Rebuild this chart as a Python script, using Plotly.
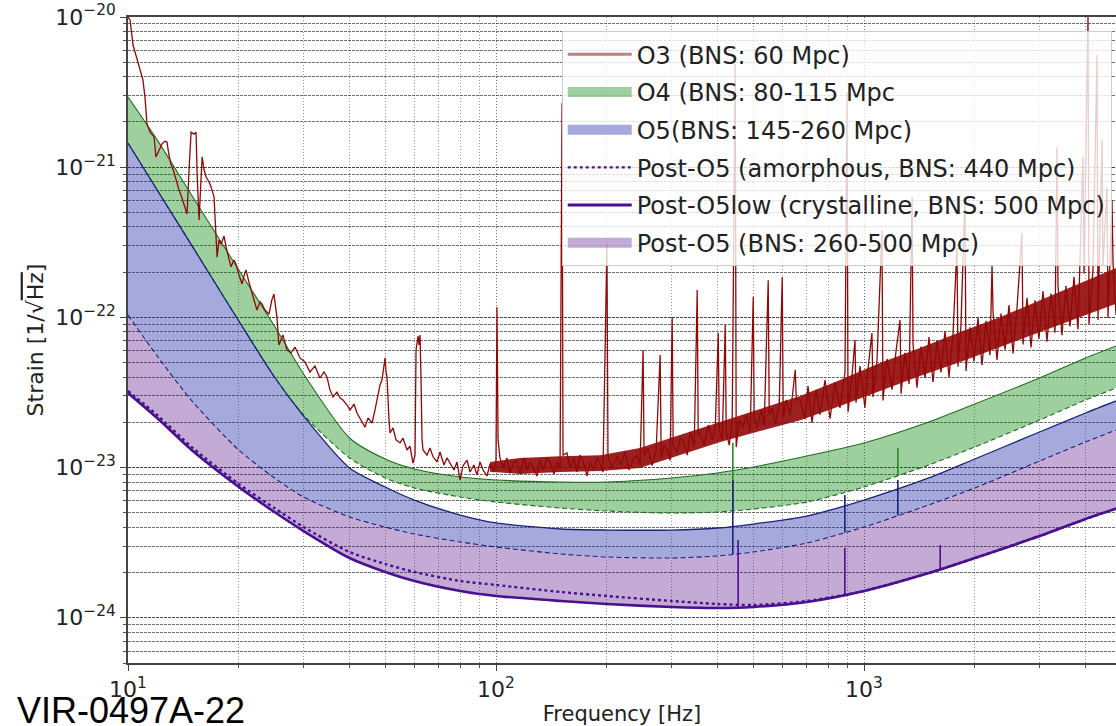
import plotly.graph_objects as go

# Strain values below are stored in units of 1e-23 / sqrt(Hz)
UNIT = 1e-23

# ---- design sensitivity curves, sampled on a common frequency grid (Hz)
freq_hz = [10, 12, 15, 20, 25, 30, 40, 50, 60, 80, 100, 150, 200, 300,
           400, 500, 700, 1000, 1500, 2000, 3000, 4000, 5000]

o4_80mpc = [293, 152, 63.3, 20.7, 8.77, 4.20, 1.574, 1.141, 0.979, 0.866,
            0.827, 0.802, 0.802, 0.853, 0.921, 1.009, 1.194, 1.458, 2.011,
            2.650, 3.949, 5.365, 6.65]
o4_115mpc = [144.9, 70.5, 29.4, 9.46, 4.01, 2.239, 1.159, 0.853, 0.731,
             0.637, 0.590, 0.538, 0.514, 0.498, 0.506, 0.530, 0.590, 0.743,
             1.041, 1.371, 2.074, 2.818, 3.493]
o5_145mpc = [144.9, 70.5, 29.4, 9.46, 4.01, 2.205, 0.994, 0.743, 0.608,
             0.483, 0.428, 0.390, 0.384, 0.384, 0.396, 0.421, 0.476, 0.608,
             0.853, 1.141, 1.726, 2.309, 2.862]
o5_260mpc = [10.37, 5.53, 2.733, 1.309, 0.853, 0.637, 0.469, 0.402, 0.361,
             0.320, 0.296, 0.266, 0.254, 0.250, 0.258, 0.274, 0.315, 0.402,
             0.564, 0.731, 1.107, 1.481, 1.835]
post_o5_amorphous = [3.236, 2.239, 1.350, 0.778, 0.538, 0.402, 0.274, 0.2282,
                     0.2018, 0.1758, 0.1654, 0.1485, 0.1397, 0.1294, 0.1236,
                     0.1217, 0.1294, 0.1508, 0.1987, 0.250, 0.350, 0.455, 0.547]
post_o5_crystalline = [3.138, 2.138, 1.289, 0.743, 0.506, 0.378, 0.250,
                       0.2018, 0.1758, 0.1508, 0.1397, 0.1294, 0.1236, 0.1180,
                       0.1162, 0.1180, 0.1274, 0.1508, 0.1987, 0.250, 0.350,
                       0.455, 0.547]

# ---- narrow lines (violin modes / calibration) on the design curves
o4_line_freq = [440, 1236]
o4_line_base = [0.515, 0.88]
o4_line_top = [1.46, 1.35]
o5_line_freq = [440, 887, 1236]
o5_line_base = [0.265, 0.37, 0.48]
o5_line_top = [0.826, 0.657, 0.826]
post_line_freq = [455, 887, 1611]
post_line_base = [0.117, 0.14, 0.21]
post_line_top = [0.330, 0.292, 0.305]

# ---- O3 measured spectrum
o3_freq = [
    10.0, 10.13, 10.32, 10.65, 10.85, 10.98, 11.12, 11.26, 11.48, 11.77,
    11.91, 12.14, 12.37, 12.60, 12.76, 12.92, 13.08, 13.33, 13.50, 13.76,
    14.02, 14.20, 14.47, 14.65, 14.84, 15.12, 15.31, 15.41, 15.60, 15.90,
    16.10, 16.30, 16.61, 16.82, 17.13, 17.46, 17.68, 17.90, 18.24, 18.47,
    18.82, 19.05, 19.41, 19.65, 20.03, 20.41, 20.66, 20.92, 21.31, 21.58,
    21.99, 22.41, 22.83, 23.12, 23.56, 24.16, 24.61, 24.92, 25.39, 25.71,
    26.36, 27.03, 27.72, 28.43, 29.33, 30.26, 31.22, 32.21, 33.24, 34.08,
    34.73, 35.39, 36.06, 36.97, 37.68, 38.39, 39.37, 40.11, 41.13, 41.91,
    42.97, 44.06, 44.90, 46.03, 46.91, 47.80, 48.40, 49.01, 49.63, 49.94,
    50.25, 50.57, 51.20, 51.52, 52.50, 53.50, 54.85, 55.89, 57.30, 58.39,
    59.50, 60.25, 60.63, 61.01, 61.39, 61.78, 62.17, 62.56, 62.95, 63.34,
    64.94, 66.17, 67.43, 69.13, 70.45, 72.22, 73.59, 75.00, 76.89, 78.35,
    79.84, 81.36, 83.41, 85.00, 87.14, 88.80, 90.49, 92.21, 94.54, 96.34,
    98.77, 100.0, 100.6, 101.3, 102.5, 104.5, 107.1, 109.1, 111.9, 114.0,
    116.2, 119.1, 121.4, 123.7, 126.0, 129.2, 131.7, 134.2, 137.6, 140.2,
    143.7, 146.5, 149.3, 151.2, 152.1, 155.9, 158.9, 162.9, 166.0, 169.1,
    172.3, 176.7, 180.1, 184.6, 188.1, 191.7, 195.3, 200.2, 201.5, 206.6,
    213.1, 218.6, 224.1, 229.8, 235.7, 241.7, 246.3, 251.0, 252.6, 259.0,
    265.6, 272.4, 279.3, 281.1, 286.4, 291.8, 297.3, 301.1, 303.0, 310.7,
    316.6, 322.6, 330.8, 337.1, 345.7, 352.2, 354.4, 358.8, 368.0, 377.4,
    387.0, 394.3, 401.8, 404.3, 411.9, 419.7, 422.3, 430.3, 438.4, 446.7,
    449.5, 458.0, 469.6, 478.5, 490.7, 500.0, 503.1, 512.6, 525.6, 535.6,
    549.2, 552.7, 563.1, 573.8, 588.4, 599.5, 603.3, 614.7, 630.3, 650.5,
    654.6, 671.3, 691.3, 704.5, 722.4, 740.8, 759.5, 783.6, 808.5, 834.2,
    860.7, 888.1, 899.2, 904.9, 927.7, 945.3, 951.2, 975.2, 1006, 1025,
    1051, 1058, 1085, 1119, 1126, 1155, 1192, 1222, 1253, 1261,
    1292, 1326, 1351, 1359, 1393, 1428, 1465, 1502, 1540, 1579,
    1619, 1660, 1702, 1745, 1789, 1801, 1835, 1881, 1893, 1941,
    1990, 2041, 2093, 2146, 2200, 2228, 2242, 2298, 2357, 2417,
    2477, 2541, 2605, 2687, 2705, 2774, 2844, 2916, 2989, 3065,
    3143, 3222, 3304, 3345, 3366, 3451, 3539, 3628, 3721, 3815,
    3937, 3962, 4062, 4087, 4191, 4297, 4324, 4434, 4461, 4575,
    4603, 4720, 4750, 4840, 4994]
o3_asd = [
    1000, 955, 651, 494, 417, 381, 293, 194, 171, 159,
    117, 130, 143, 149, 147, 121, 105, 92.9, 82.2, 70.5,
    62.4, 56.9, 48.8, 95.8, 171, 166, 171, 90.2, 44.5, 117,
    95.8, 86.1, 79.7, 73.8, 63.4, 25.2, 32.7, 30.8, 34.8, 29.4,
    24.8, 21.7, 24.1, 22.7, 19.1, 16.7, 18.9, 20.7, 17.2, 15.2,
    13.1, 11.2, 12.7, 12.3, 11.2, 10.5, 13.1, 14.3, 10.07, 6.55,
    7.64, 6.07, 5.80, 6.35, 5.37, 5.05, 4.33, 4.75, 3.95, 4.33,
    4.01, 3.29, 2.95, 3.18, 2.91, 2.82, 2.61, 2.42, 2.65, 2.31,
    2.07, 1.86, 2.14, 1.98, 2.42, 3.04, 3.55, 3.83, 5.05, 5.37,
    4.33, 4.01, 2.07, 1.70, 1.84, 1.53, 1.46, 1.57, 1.31, 1.39,
    1.07, 1.21, 6.07, 7.08, 7.52, 6.55, 7.64, 3.83, 1.53, 1.31,
    1.21, 1.35, 1.18, 1.09, 1.27, 1.04, 1.16, 1.07, 0.964, 1.09,
    0.826, 1.03, 1.12, 0.935, 1.04, 0.893, 1.09, 0.964, 0.879, 1.06,
    0.935, 1.12, 11.7, 1.53, 1.16, 0.994, 1.16, 0.920, 1.09, 1.12,
    0.906, 1.16, 0.964, 1.09, 1.01, 0.879, 1.12, 0.964, 1.16, 1.09,
    0.906, 1.09, 0.994, 268, 1.21, 1.25, 0.994, 1.16, 0.935, 1.21,
    1.12, 0.879, 1.09, 0.964, 1.16, 1.07, 0.935, 30.8, 1.21, 0.994,
    1.18, 1.04, 1.27, 0.964, 1.12, 1.21, 1.04, 6.07, 1.21, 1.35,
    1.03, 1.31, 5.62, 1.16, 1.41, 1.31, 1.12, 10.07, 1.41, 1.27,
    1.57, 1.53, 1.21, 1.73, 1.39, 15.2, 1.65, 1.70, 1.41, 1.92,
    1.53, 1.84, 7.87, 1.78, 1.53, 8.89, 1.73, 1.41, 2.07, 486,
    1.37, 2.07, 1.86, 2.24, 1.73, 13.7, 2.14, 1.84, 2.42, 1.92,
    17.7, 2.24, 2.49, 1.95, 2.61, 18.6, 2.14, 2.82, 2.24, 4.47,
    2.82, 2.82, 2.10, 3.49, 1.98, 3.30, 2.25, 3.83, 2.12, 3.70,
    2.50, 4.33, 312, 2.35, 4.10, 7.08, 2.70, 4.75, 2.50, 4.50,
    7.87, 2.95, 5.20, 38.2, 2.80, 5.30, 3.30, 5.97, 9.61, 3.10,
    5.80, 3.60, 63.4, 6.65, 3.40, 6.40, 3.95, 7.41, 3.70, 7.00,
    4.30, 8.12, 4.00, 7.70, 29.0, 4.70, 9.04, 63.4, 4.40, 8.60,
    5.10, 9.91, 4.80, 9.50, 5.60, 22.3, 10.9, 5.20, 10.6, 6.10,
    12.1, 5.75, 11.6, 36.5, 6.60, 13.5, 6.30, 13.0, 7.20, 14.99,
    6.90, 14.4, 7.90, 136, 16.2, 7.60, 16.2, 8.70, 18.6, 8.30,
    117, 19.5, 1000, 9.04, 21.0, 558, 9.61, 152, 22.0, 73.8,
    9.91, 60.5, 23.0, 10.4, 16.7]

# spread of the dense O3 noise floor above ~100 Hz
o3_floor_freq = [96.3, 116, 149, 192, 246, 317, 407, 522, 671, 861, 1105,
                 1419, 1826, 2349, 3026, 3883, 4994]
o3_floor_hi = [1.09, 1.16, 1.19, 1.21, 1.35, 1.65, 2.01, 2.45, 3.00, 3.83,
               4.97, 6.25, 8.00, 10.07, 13.1, 16.9, 22.0]
o3_floor_lo = [0.94, 0.906, 0.935, 0.949, 0.994, 1.21, 1.48, 1.75, 2.07,
               2.57, 3.24, 4.07, 5.05, 6.35, 8.00, 10.07, 12.7]

# ---- legend text
labels = [
    "O3 (BNS: 60 Mpc)",
    "O4 (BNS: 80-115 Mpc",
    "O5(BNS: 145-260 Mpc)",
    "Post-O5 (amorphous, BNS: 440 Mpc)",
    "Post-O5low (crystalline, BNS: 500 Mpc)",
    "Post-O5 (BNS: 260-500 Mpc)",
]

GREEN_FILL = "rgba(0,128,0,0.38)"
GREEN_LINE = "#1f6f1f"
BLUE_FILL = "rgba(40,50,170,0.42)"
BLUE_LINE = "#1a237a"
PURPLE_FILL = "rgba(75,0,130,0.33)"
PURPLE_LINE = "#4a1090"
O3_COLOR = "#920808"
FONT = "DejaVu Sans"


def scaled(values):
    return [v * UNIT for v in values]


def spikes(freqs, base, top):
    xs, ys = [], []
    for f, b, t in zip(freqs, base, top):
        xs += [f, f, None]
        ys += [b * UNIT, t * UNIT, None]
    return xs, ys


fig = go.Figure()
smooth = dict(shape="spline", smoothing=0.7)

# O4 band
fig.add_trace(go.Scatter(x=freq_hz, y=scaled(o4_115mpc), mode="lines",
                         line=dict(color=GREEN_LINE, width=1.1, dash="5px,3px", **smooth),
                         showlegend=False, hoverinfo="skip"))
fig.add_trace(go.Scatter(x=freq_hz, y=scaled(o4_80mpc), mode="lines", fill="tonexty",
                         fillcolor=GREEN_FILL,
                         line=dict(color=GREEN_LINE, width=1.1, **smooth),
                         showlegend=False, hoverinfo="skip"))
# O5 band
fig.add_trace(go.Scatter(x=freq_hz, y=scaled(o5_260mpc), mode="lines",
                         line=dict(color=BLUE_LINE, width=1.1, dash="5px,3px", **smooth),
                         showlegend=False, hoverinfo="skip"))
fig.add_trace(go.Scatter(x=freq_hz, y=scaled(o5_145mpc), mode="lines", fill="tonexty",
                         fillcolor=BLUE_FILL,
                         line=dict(color=BLUE_LINE, width=1.3, **smooth),
                         showlegend=False, hoverinfo="skip"))
# Post-O5 band
fig.add_trace(go.Scatter(x=freq_hz, y=scaled(post_o5_crystalline), mode="lines",
                         line=dict(color=PURPLE_LINE, width=2.6, **smooth),
                         showlegend=False, hoverinfo="skip"))
fig.add_trace(go.Scatter(x=freq_hz, y=scaled(o5_260mpc), mode="lines", fill="tonexty",
                         fillcolor=PURPLE_FILL, line=dict(width=0, **smooth),
                         showlegend=False, hoverinfo="skip"))
fig.add_trace(go.Scatter(x=freq_hz, y=scaled(post_o5_amorphous), mode="lines",
                         line=dict(color=PURPLE_LINE, width=2.4, dash="dot", **smooth),
                         showlegend=False, hoverinfo="skip"))

# narrow lines on the design curves
for fr, b, t, col in [(o4_line_freq, o4_line_base, o4_line_top, "#2a8a2a"),
                      (o5_line_freq, o5_line_base, o5_line_top, BLUE_LINE),
                      (post_line_freq, post_line_base, post_line_top, PURPLE_LINE)]:
    sx, sy = spikes(fr, b, t)
    fig.add_trace(go.Scatter(x=sx, y=sy, mode="lines", line=dict(color=col, width=1.6),
                             showlegend=False, hoverinfo="skip"))

# O3 noise floor and spectrum
fig.add_trace(go.Scatter(x=o3_floor_freq, y=scaled(o3_floor_lo), mode="lines",
                         line=dict(width=0), showlegend=False, hoverinfo="skip"))
fig.add_trace(go.Scatter(x=o3_floor_freq, y=scaled(o3_floor_hi), mode="lines",
                         fill="tonexty", fillcolor="rgba(146,8,8,0.9)",
                         line=dict(width=0), showlegend=False, hoverinfo="skip"))
fig.add_trace(go.Scatter(x=o3_freq, y=scaled(o3_asd), mode="lines",
                         line=dict(color=O3_COLOR, width=1.3),
                         showlegend=False, hoverinfo="skip"))

# legend entries
legend_styles = [
    dict(color="rgba(150,60,60,0.65)", width=3),
    dict(color=GREEN_FILL, width=14),
    dict(color=BLUE_FILL, width=14),
    dict(color=PURPLE_LINE, width=2.4, dash="dot"),
    dict(color=PURPLE_LINE, width=3),
    dict(color=PURPLE_FILL, width=14),
]
for i, (name, st) in enumerate(zip(labels, legend_styles)):
    fig.add_trace(go.Scatter(x=[None], y=[None], mode="lines", name=name, line=st,
                             legendgroup=f"g{i}", showlegend=True))

grid_x = dict(showgrid=True, gridcolor="rgba(80,80,80,0.6)", griddash="1px,2px", gridwidth=1)
grid_y = dict(showgrid=True, gridcolor="rgba(50,50,50,0.7)", griddash="3px,1px", gridwidth=1)

fig.update_layout(
    width=1116, height=726,
    margin=dict(l=128, r=0, t=17, b=63),
    paper_bgcolor="white", plot_bgcolor="white",
    font=dict(family=FONT, size=22, color="#222"),
    showlegend=True,
    legend=dict(x=0.439, y=0.978, xanchor="left", yanchor="top",
                bgcolor="rgba(255,255,255,0.8)", bordercolor="#cccccc", borderwidth=1,
                font=dict(family=FONT, size=24, color="#222"),
                tracegroupgap=3.5, itemwidth=64),
    xaxis=dict(type="log", range=[1, 3.6848],
               tickvals=[10, 100, 1000],
               ticktext=["10<sup>1</sup>", "10<sup>2</sup>", "10<sup>3</sup>"],
               ticks="outside", ticklen=6, tickcolor="#444",
               showline=True, linecolor="#444", linewidth=1.5, mirror=True,
               minor=dict(dtick="D1", ticks="outside", ticklen=3, tickcolor="#555", **grid_x),
               title=dict(text="Frequency [Hz]", font=dict(size=21), standoff=6),
               zeroline=False, **grid_x),
    yaxis=dict(type="log", range=[-24.301, -20],
               tickvals=[1e-24, 1e-23, 1e-22, 1e-21, 1e-20],
               ticktext=["10<sup>\u221224</sup>", "10<sup>\u221223</sup>",
                         "10<sup>\u221222</sup>", "10<sup>\u221221</sup>",
                         "10<sup>\u221220</sup>"],
               ticks="outside", ticklen=6, tickcolor="#444",
               showline=True, linecolor="#444", linewidth=1.5,
               minor=dict(dtick="D1", ticks="outside", ticklen=3, tickcolor="#555", **grid_y),
               title=dict(text='Strain [1/\u221a<span style="text-decoration:overline">Hz</span>]',
                          font=dict(size=22), standoff=6),
               zeroline=False, **grid_y),
)

fig.add_annotation(text="VIR-0497A-22", xref="paper", yref="paper",
                   x=-0.1144, y=-0.073, xanchor="left", yanchor="middle",
                   showarrow=False, font=dict(family="Liberation Sans", size=36, color="#000"))

fig.write_html("out.html")
